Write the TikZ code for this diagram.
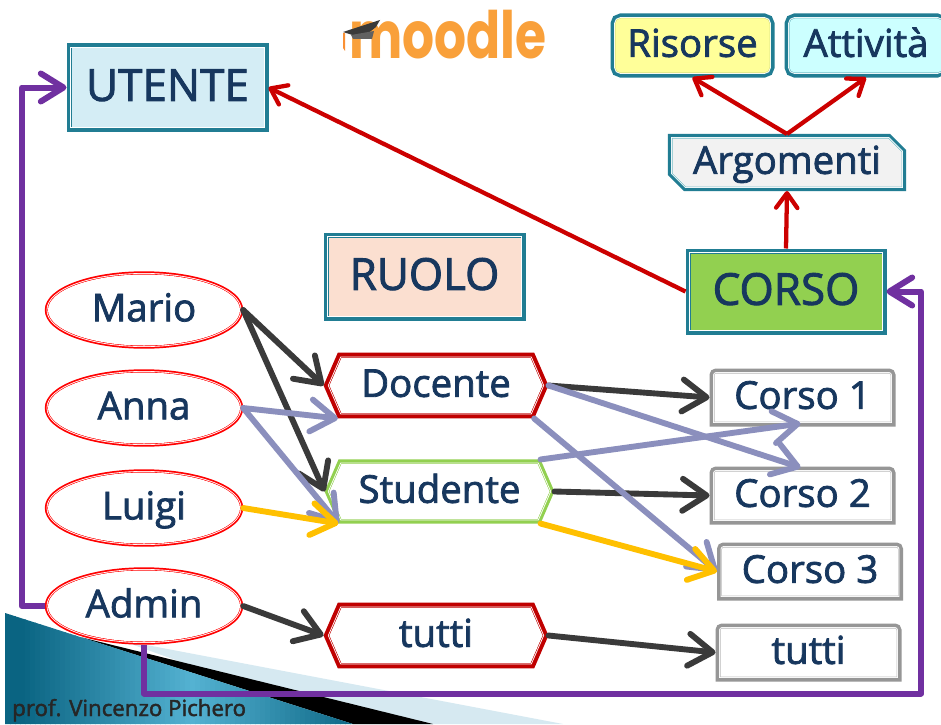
\documentclass[tikz,border=0pt]{standalone}
\usepackage{fontspec}
\usepackage{graphicx}
\setmainfont{Open Sans}[RawFeature={embolden=2}]
\newfontfamily\logofont{Poppins}
\usetikzlibrary{arrows.meta,shapes.geometric,shapes.misc,shapes.symbols}
\definecolor{txt}{HTML}{17375E}
\definecolor{teal1}{HTML}{217D93}
\definecolor{dred}{HTML}{C00000}
\definecolor{fred}{HTML}{FF0000}
\definecolor{fgreen}{HTML}{92D050}
\definecolor{fgray}{HTML}{969696}
\definecolor{purp}{HTML}{7030A0}
\definecolor{lilac}{HTML}{8B8FBD}
\definecolor{dark}{HTML}{3A3A3A}
\definecolor{yel}{HTML}{FFC000}
\definecolor{rarrow}{HTML}{CC0000}
\definecolor{logoor}{HTML}{F9A03A}
\definecolor{fillU}{RGB}{212,237,245}
\definecolor{fillR}{RGB}{251,223,208}
\definecolor{fillY}{RGB}{255,255,153}
\definecolor{lineY}{RGB}{215,225,130}
\definecolor{fillC}{RGB}{204,255,255}
\definecolor{lineC}{RGB}{120,190,200}
\definecolor{fillA}{RGB}{242,242,242}
\definecolor{lineG}{RGB}{185,185,185}
\definecolor{lightb}{RGB}{214,233,241}
\definecolor{shA}{RGB}{10,100,130}
\definecolor{shB}{RGB}{84,178,210}
\makeatletter
\newdimen\tbxa \newdimen\tbxb \newdimen\tbya \newdimen\tbyb
\pgfdeclareshape{topround}{
  \inheritsavedanchors[from=rectangle]
  \inheritanchorborder[from=rectangle]
  \inheritanchor[from=rectangle]{center}
  \inheritanchor[from=rectangle]{north}
  \inheritanchor[from=rectangle]{south}
  \inheritanchor[from=rectangle]{east}
  \inheritanchor[from=rectangle]{west}
  \backgroundpath{
    \southwest \global\tbxa=\pgf@x \global\tbya=\pgf@y
    \northeast \global\tbxb=\pgf@x \global\tbyb=\pgf@y
    \pgfmathsetlength\pgfutil@tempdima{\pgfkeysvalueof{/pgf/outer xsep}}
    \pgfmathsetlength\pgfutil@tempdimb{\pgfkeysvalueof{/pgf/outer ysep}}
    \global\advance\tbxa by \pgfutil@tempdima
    \global\advance\tbxb by -\pgfutil@tempdima
    \global\advance\tbya by \pgfutil@tempdimb
    \global\advance\tbyb by -\pgfutil@tempdimb
    \pgfpathmoveto{\pgfqpoint{\tbxa}{\tbya}}
    \pgfpathlineto{\pgfpoint{\tbxa}{\tbyb-1.5pt}}
    \pgfpatharc{180}{90}{1.5pt}
    \pgfpathlineto{\pgfpoint{\tbxb-1.5pt}{\tbyb}}
    \pgfpatharc{90}{0}{1.5pt}
    \pgfpathlineto{\pgfqpoint{\tbxb}{\tbya}}
    \pgfpathclose
  }
}
\makeatother
\tikzset{
  lab/.style={text=txt,font=\fontsize{28.8pt}{30pt}\selectfont,inner sep=0pt,align=center,text height=21pt,text depth=4pt},
  bigl/.style={font=\fontsize{33pt}{34pt}\selectfont,text height=24pt,text depth=4pt},
  sz/.style 2 args={minimum width=#1*.75pt,minimum height=#2*.75pt},
  % colour, inner colour, fill, outer stroke width (pt), outer sep (pt)
  frame/.style n args={5}{
    outer sep=#5pt,fill=#3,
    preaction={draw=#1,line width=#4pt},
    preaction={draw=white,line width=2.2pt},
    preaction={draw=#2,line width=.9pt}},
  oval/.style={lab,ellipse,frame={fred}{fred}{white}{4.8}{2.4},sz={192}{71}},
  hexred/.style={lab,signal,signal to=west and east,signal from=nowhere,signal pointer angle=133,
    frame={dred}{dred}{white}{8.2}{4.1},sz={213}{55}},
  hexgreen/.style={lab,signal,signal to=west and east,signal from=nowhere,signal pointer angle=133,
    frame={fgreen}{fgreen}{white}{6.8}{3.4},sz={220}{55}},
  course/.style={lab,shape=topround,frame={fgray}{lineG}{white}{7.5}{3.75},sz={176}{48}},
  conn/.style={line width=4.4pt,line cap=round,line join=round,
     -{Straight Barb[length=18pt,width=24pt,round]}},
  blk/.style={conn,draw=dark},
  lil/.style={conn,draw=lilac},
  yl/.style={conn,draw=yel},
  prp/.style={line width=4.5pt,draw=purp,line join=round,
     -{Straight Barb[length=17pt,width=21pt,round]}},
  redc/.style={line width=3.2pt,draw=rarrow,
     -{Straight Barb[length=11pt,width=16pt,round]}},
  tealf/.style={lab,rectangle,frame={teal1}{teal1}{#1}{7.5}{3.75}}
}
\begin{document}
\begin{tikzpicture}[x=.75pt,y=-.75pt]
\useasboundingbox (0,0) rectangle (941,724);
\fill[white] (0,0) rectangle (941,724);
% corner decoration
\fill[lightb] (120,640) -- (563,724) -- (353,724) -- cycle;
\fill[black] (80,637) -- (433,724) -- (353,724) -- cycle;
\begin{scope}
  \clip (5,613) -- (353,724) -- (5,724) -- cycle;
  \foreach \i in {0,...,70}{
    \pgfmathsetmacro\mixv{max(0,100*(1-abs(5+\i*5-190)/170))}
    \fill[shB!\mixv!shA] (5+\i*5,600) rectangle +(5.6,130);
  }
\end{scope}
\node[anchor=base west,inner sep=0pt,font=\fontsize{16.7pt}{17pt}\selectfont,text=black!85] (prof) at (12,716) {prof. Vincenzo Pichero};
% logo
\node[anchor=base west,inner sep=0pt,text=logoor,font=\logofont\fontsize{49pt}{50pt}\selectfont\bfseries] (logo) at (349,59) {\scalebox{.77}[1]{moodle}};
\fill[dark] (343,32) -- (380,20) -- (376,27) -- (362,38) -- cycle;
\fill[dark!80] (351,35) -- (374,31) -- (372,39) -- (353,39) -- cycle;
\fill[logoor!90!red] (343,33) -- (345,33) -- (345,51) -- (343,48) -- cycle;
% nodes
\node[tealf=fillU,bigl,sz={192}{78}] (utente) at (167.5,87.5) {UTENTE};
\node[tealf=fillR,bigl,sz={192}{78}] (ruolo) at (424.5,276.5) {RUOLO};
\node[tealf=fgreen,bigl,sz={191}{76}] (corso) at (786,291.5) {CORSO};
\node[lab,rectangle,rounded corners=4pt,frame={teal1}{lineY}{fillY}{7.5}{3.75},sz={154}{54}] (risorse) at (692.5,45.5) {Risorse};
\node[lab,rectangle,rounded corners=4pt,frame={teal1}{lineC}{fillC}{7.5}{3.75},sz={153}{54}] (attivita) at (866,45.5) {Attività};
\node[lab,chamfered rectangle,chamfered rectangle corners={north east,south west},chamfered rectangle xsep=5pt,chamfered rectangle ysep=5pt,frame={teal1}{lineC}{fillA}{6.8}{3.4},sz={229}{48}] (argomenti) at (787,162.5) {Argomenti};
\node[oval] (mario) at (144,310) {Mario};
\node[oval] (anna) at (144,408) {Anna};
\node[oval] (luigi) at (144,508) {Luigi};
\node[oval] (admin) at (144,606) {Admin};
\node[hexred] (docente) at (436,385.5) {Docente};
\node[hexgreen] (studente) at (439.5,491.5) {Studente};
\node[hexred] (tuttiR) at (436,635.5) {tutti};
\node[course] (c1) at (802.5,397.5) {Corso 1};
\node[course] (c2) at (802.5,495.5) {Corso 2};
\node[course] (c3) at (810,571.5) {Corso 3};
\node[course] (tuttiC) at (808.5,652.5) {tutti};
% connectors
\draw[blk] (mario.east) -- (docente.west);
\draw[blk] (mario.east) -- (studente.west);
\draw[blk] (admin.east) -- (tuttiR.west);
\draw[blk] (tuttiR.east) -- (tuttiC.west);
\draw[blk] (docente.east) -- (c1.west);
\draw[blk] (studente.east) -- (c2.west);
\draw[lil] (anna.east) -- (docente.south west);
\draw[lil] (anna.east) -- (studente.south west);
\draw[lil] (docente.east) -- ([shift={(-2,1)}]c2.north);
\draw[lil] (docente.south east) -- (c3.west);
\draw[lil] (studente.north east) -- ([shift={(-2,-3)}]c1.south);
\draw[yl] (luigi.east) -- (studente.south west);
\draw[yl] (studente.south east) -- (c3.west);
\draw[prp] (admin.west) -- ++(-23,0) |- (utente.west);
\draw[prp] (admin.south) |- (921,693.5) |- (corso.east);
\draw[redc] (corso.west) -- (utente.east);
\draw[redc] (corso.north) -- (argomenti.south);
\draw[redc] (argomenti.north) -- (risorse.south);
\draw[redc] (argomenti.north) -- (attivita.south);
\end{tikzpicture}
\end{document}
